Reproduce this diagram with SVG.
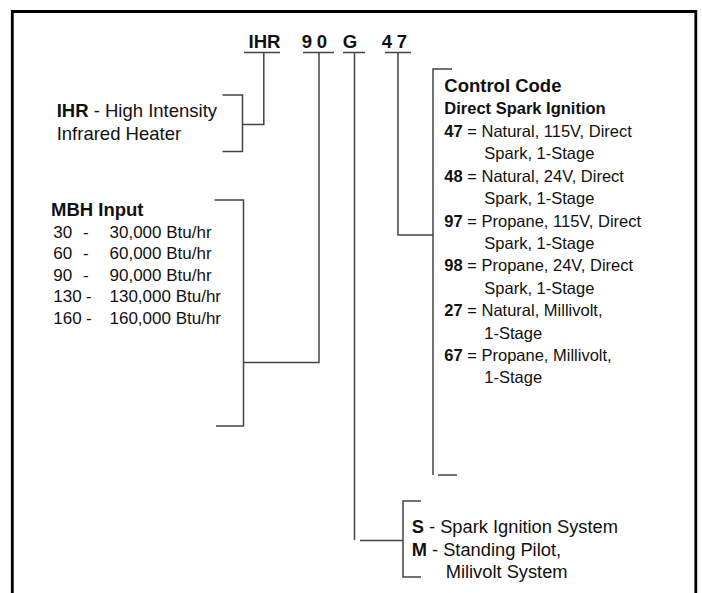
<svg xmlns="http://www.w3.org/2000/svg" width="702" height="593" viewBox="0 0 702 593">
<style>
text{font-family:"Liberation Sans",Arial,Helvetica,sans-serif;fill:#111}
.b{font-weight:bold}
.code{font-size:18.6px;font-weight:bold}
.l18{font-size:18.5px}
.l17{font-size:17px}
.c{font-size:16.5px}
.ln{fill:none;stroke:#444;stroke-width:1.5}
.frame{fill:none;stroke:#000;stroke-width:2.8}
</style>
<rect width="702" height="593" fill="#fff"/>
<path class="frame" d="M12.3,593 V11.5 H695.8 V593"/>
<g id="code">
<text class="code" x="248.5" y="48">IHR</text>
<text class="code" x="301.7 316.7" y="48">90</text>
<text class="code" x="342.7" y="48">G</text>
<text class="code" x="381.7 396.7" y="48">47</text>
</g>
<g id="connectors">
<path class="ln" d="M244,52.5 H280 M303,52.5 H334 M343,52.5 H365 M385,52.5 H411"/>
<path class="ln" d="M263.8,52.5 V124.5 H242.5"/>
<path class="ln" d="M222.5,95 H242.5 V151.5 H222.5"/>
<path class="ln" d="M319,52.5 V362.5 H243.5"/>
<path class="ln" d="M214.5,200 H243.5 V426 H216"/>
<path class="ln" d="M354.5,52.5 V540"/>
<path class="ln" d="M360,540.5 H403"/>
<path class="ln" d="M421,501 H403 V577 H421"/>
<path class="ln" d="M398,52.5 V235 H433"/>
<path class="ln" d="M452,69 H433 V475"/>
<path class="ln" d="M438,475 H457"/>
</g>
<g id="ihr">
<text class="l18" x="56.7" y="117.3"><tspan class="b">IHR</tspan> - High Intensity</text>
<text class="l18" x="56.7" y="140">Infrared Heater</text>
</g>
<g id="mbh">
<text class="l18 b" x="51" y="216">MBH Input</text>
<g class="l17">
<text x="53.3" y="237.7">30</text><text x="83" y="237.7">-</text><text x="109.5" y="237.7">30,000 Btu/hr</text>
<text x="53.3" y="259.2">60</text><text x="83" y="259.2">-</text><text x="109.5" y="259.2">60,000 Btu/hr</text>
<text x="53.3" y="280.7">90</text><text x="83" y="280.7">-</text><text x="109.5" y="280.7">90,000 Btu/hr</text>
<text x="53.3" y="302.2">130</text><text x="86" y="302.2">-</text><text x="109.5" y="302.2">130,000 Btu/hr</text>
<text x="53.3" y="323.7">160</text><text x="86" y="323.7">-</text><text x="109.5" y="323.7">160,000 Btu/hr</text>
</g>
</g>
<g id="control">
<text class="b" style="font-size:18.5px" x="444.3" y="91.7">Control Code</text>
<text class="b c" x="444.3" y="114.3">Direct Spark Ignition</text>
<g class="c">
<text x="444.3" y="137"><tspan class="b">47</tspan> = Natural, 115V, Direct</text>
<text x="484.3" y="159.4">Spark, 1-Stage</text>
<text x="444.3" y="181.8"><tspan class="b">48</tspan> = Natural, 24V, Direct</text>
<text x="484.3" y="204.2">Spark, 1-Stage</text>
<text x="444.3" y="226.6"><tspan class="b">97</tspan> = Propane, 115V, Direct</text>
<text x="484.3" y="249">Spark, 1-Stage</text>
<text x="444.3" y="271.4"><tspan class="b">98</tspan> = Propane, 24V, Direct</text>
<text x="484.3" y="293.8">Spark, 1-Stage</text>
<text x="444.3" y="316.2"><tspan class="b">27</tspan> = Natural, Millivolt,</text>
<text x="484.3" y="338.6">1-Stage</text>
<text x="444.3" y="361"><tspan class="b">67</tspan> = Propane, Millivolt,</text>
<text x="484.3" y="383.4">1-Stage</text>
</g>
</g>
<g id="ignition" style="font-size:18.3px">
<text x="411.7" y="533.3"><tspan class="b">S</tspan> - Spark Ignition System</text>
<text x="411.7" y="556"><tspan class="b">M</tspan> - Standing Pilot,</text>
<text x="445.7" y="578.3">Milivolt System</text>
</g>
</svg>
